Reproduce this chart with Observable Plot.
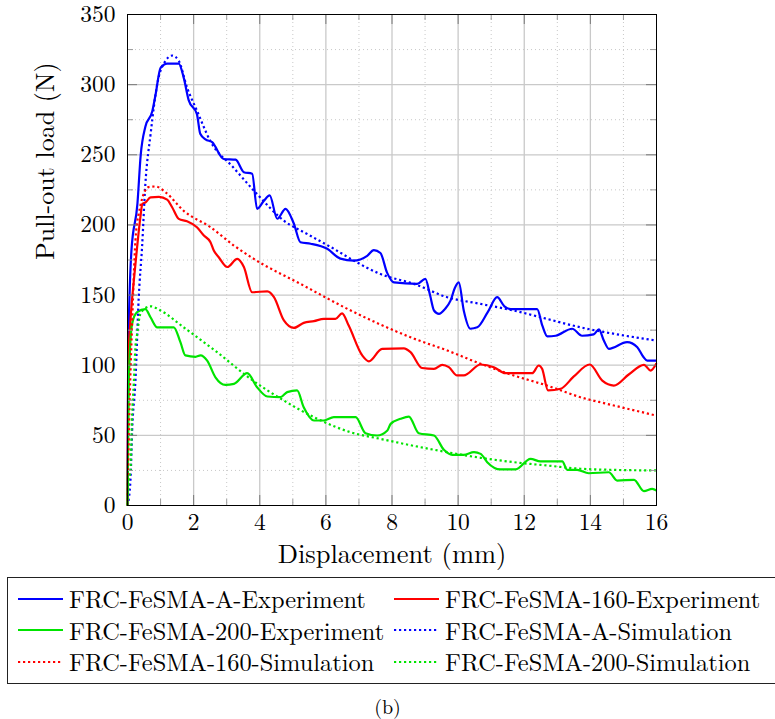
<!DOCTYPE html>
<html>
<head>
<meta charset="utf-8">
<script src="https://cdn.jsdelivr.net/npm/d3@7"></script>
<script src="https://cdn.jsdelivr.net/npm/@observablehq/plot@0.6"></script>
<style>
  html, body { margin: 0; padding: 0; background: #fff; }
  body { width: 775px; height: 719px; position: relative; overflow: hidden; }
  #chart { position: absolute; left: 0; top: 0; }
  #legend { position: absolute; left: 7px; top: 577px; width: 790px; height: 107px; border: 1px solid #222; box-sizing: border-box; }
  .entry { position: absolute; display: flex; align-items: center; line-height: 1; white-space: nowrap; color: #000; }
  .entry svg { margin-right: 6px; }
  #caption { position: absolute; left: 0; width: 775px; top: 696px; height: 20px; text-align: center; line-height: 20px; }
</style>
</head>
<body>
<div id="chart"></div>
<div id="legend"></div>
<div id="caption"></div>
<script>
// ---- data (displacement mm, load N) ----
const expA = [
  [0,0],[0.02,105],[0.12,182],[0.3,215],[0.4,250],[0.54,270],[0.75,281],[0.85,293],[1.0,312],[1.2,315],
  [1.55,315],[1.7,305],[1.85,289],[2.1,279],[2.2,265],[2.36,261],[2.56,259],[2.91,247],[3.27,246.5],[3.52,237.6],
  [3.77,236.5],[3.92,211.5],[4.12,217],[4.3,221],[4.53,204.4],[4.78,211.5],[5.03,201],[5.23,187.7],[5.54,186.6],
  [6.04,183],[6.44,176],[6.84,174.6],[7.25,178],[7.45,182],[7.65,180],[7.85,166],[8.06,159],[8.76,158],[9.01,161.6],
  [9.15,150],[9.27,139],[9.42,136.6],[9.6,140],[9.77,146],[9.9,155],[10.02,159],[10.17,139],[10.37,126],[10.58,127],
  [10.9,138],[11.18,148.5],[11.4,142],[11.59,140],[12.39,140],[12.55,128],[12.7,120.5],[12.95,121],[13.45,126],
  [13.75,121],[14.1,122],[14.26,125.5],[14.4,118],[14.56,111.7],[15.11,116.4],[15.42,112.8],[15.6,106],[15.72,103.3],[16,103.3]
];
const exp160 = [
  [0,0],[0.02,100],[0.09,132],[0.19,160],[0.29,184],[0.39,205.5],[0.45,215],[0.54,216],[0.7,219.7],[0.95,220],
  [1.2,218],[1.35,212.6],[1.55,204.3],[1.8,202.6],[2.1,198.4],[2.31,192.4],[2.51,187.7],[2.61,181.7],[2.76,177],
  [3.02,170],[3.32,175.8],[3.52,170],[3.77,152],[4.23,152.7],[4.43,148.5],[4.73,131.9],[5.03,126.6],[5.33,130.2],
  [5.64,131.4],[5.94,133],[6.29,133],[6.49,137],[6.69,128.3],[7.1,107],[7.3,102.8],[7.7,111.7],[8.36,112],[8.56,109.3],
  [8.91,98],[9.27,97.4],[9.52,100.3],[9.72,98.6],[9.97,92.7],[10.17,92.7],[10.68,100.5],[11.08,98.6],[11.43,94.3],
  [12.24,94.3],[12.44,99.8],[12.54,97.4],[12.72,82],[13.1,83.2],[13.5,92],[13.98,100.5],[14.36,89],[14.71,85.5],
  [15.16,93.4],[15.62,100.3],[15.82,96.2],[16,101.4]
];
const exp200 = [
  [0,0],[0.04,89],[0.14,129.5],[0.29,137.8],[0.54,140],[0.7,134],[0.9,127],[1.4,127],[1.6,116.4],[1.75,107],
  [2.06,106],[2.21,107],[2.41,103.3],[2.66,91.4],[2.96,86],[3.22,86.7],[3.62,94.3],[3.92,84.3],[4.23,77.7],[4.63,77.2],
  [4.83,80.8],[5.13,82],[5.33,70],[5.64,60.6],[5.94,60.6],[6.24,63],[6.9,63],[7.2,51.5],[7.55,49.9],[7.86,53.5],
  [7.96,58.2],[8.26,61.8],[8.51,63.4],[8.81,51.5],[9.27,49.9],[9.57,39.7],[9.82,36.1],[10.17,36.1],[10.48,38],
  [10.68,36.8],[10.88,30.9],[11.28,25.7],[11.74,25.7],[12.19,33.3],[12.49,31.4],[13.15,31.4],[13.3,25.4],[13.6,25.4],
  [13.95,23],[14.56,23.7],[14.81,17.8],[15.32,18.3],[15.62,10.2],[15.87,11.9],[16,10.7]
];
const simA = [
  [0,0],[0.09,18],[0.14,53],[0.24,89],[0.34,148.5],[0.44,184],[0.54,229],[0.7,265],[0.9,300.5],[1.15,317],
  [1.35,320.7],[1.55,317],[1.8,298],[2.1,281.5],[2.5,260],[3.2,241],[3.92,222],[4.73,203],[5.43,193.6],[6.24,183],
  [6.84,174.6],[7.65,165],[8.66,158],[9.67,148.5],[10.68,143.7],[11.68,139],[12.69,133],[13.7,127],[14.71,122.4],[16,117.6]
];
const sim160 = [
  [0,0],[0.05,60],[0.14,130],[0.24,189],[0.34,208],[0.64,227],[0.85,227.4],[1.15,223.3],[1.7,210],[2.51,198.4],
  [3.22,185.3],[3.82,175.8],[5.23,158],[6.75,139],[7.65,129],[8.66,119],[9.67,110.5],[10.68,101],[11.68,92.7],
  [12.69,85.5],[13.7,77.2],[14.71,71.3],[16,64.1]
];
const sim200 = [
  [0,0],[0.04,18],[0.09,25],[0.14,65],[0.19,87],[0.24,113],[0.29,122],[0.39,136.6],[0.64,141.8],[0.7,142],[1.0,139],
  [1.7,127],[2.71,109.3],[3.72,90.3],[4.73,74.8],[5.74,61.8],[6.75,52.2],[7.65,47.5],[8.66,42.5],[9.67,38],[10.68,34],
  [11.68,30.9],[12.69,28.5],[13.7,26.2],[14.71,25.4],[16,25]
];
const seriesNames = [
  "FRC-FeSMA-A-Experiment", "FRC-FeSMA-160-Experiment", "FRC-FeSMA-200-Experiment",
  "FRC-FeSMA-A-Simulation", "FRC-FeSMA-160-Simulation", "FRC-FeSMA-200-Simulation"
];
const seriesData = [expA, exp160, exp200, simA, sim160, sim200];
const xTicks = [0, 2, 4, 6, 8, 10, 12, 14, 16];
const xMinor = [1, 3, 5, 7, 9, 11, 13, 15];
const yTicks = [0, 50, 100, 150, 200, 250, 300, 350];
const yMinor = [25, 75, 125, 175, 225, 275, 325];
const legendOrder = [
  "FRC-FeSMA-A-Experiment", "FRC-FeSMA-160-Experiment",
  "FRC-FeSMA-200-Experiment", "FRC-FeSMA-A-Simulation",
  "FRC-FeSMA-160-Simulation", "FRC-FeSMA-200-Simulation"
];
const xLabel = "Displacement (mm)";
const yLabel = "Pull-out load (N)";
const captionText = "(b)";

// ---- styles ----
const FONT = "'Latin Modern Roman', 'Liberation Serif', serif";
const BLUE = "#0000ff", RED = "#ff0000", GREEN = "#00e400";
const styleOf = {
  "FRC-FeSMA-A-Experiment":  {stroke: BLUE,  dash: null},
  "FRC-FeSMA-160-Experiment":{stroke: RED,   dash: null},
  "FRC-FeSMA-200-Experiment":{stroke: GREEN, dash: null},
  "FRC-FeSMA-A-Simulation":  {stroke: BLUE,  dash: "2.2,2.8"},
  "FRC-FeSMA-160-Simulation":{stroke: RED,   dash: "2.2,2.8"},
  "FRC-FeSMA-200-Simulation":{stroke: GREEN, dash: "2.2,2.8"}
};

const rows = [];
seriesNames.forEach((name, i) => seriesData[i].forEach(([x, y]) => rows.push({name, x, y})));

const W = 775, H = 575, mT = 14, mB = 70, mL = 127, mR = 119;
const innerH = H - mT - mB, innerW = W - mL - mR;
const majLen = 10, minLen = 6;

const lineMarks = seriesNames.map(name => Plot.line(rows.filter(r => r.name === name), {
  x: "x", y: "y", stroke: styleOf[name].stroke, strokeWidth: 2.2,
  strokeDasharray: styleOf[name].dash, strokeLinecap: "butt", curve: "monotone-x"
}));

const plot = Plot.plot({
  width: W, height: H,
  marginTop: mT, marginBottom: mB, marginLeft: mL, marginRight: mR,
  style: {fontFamily: FONT, background: "#fff", color: "#000", overflow: "visible"},
  x: {domain: [0, 16]},
  y: {domain: [0, 350]},
  marks: [
    Plot.ruleX(xMinor, {stroke: "#c8c8c8", strokeWidth: 1, strokeDasharray: "1,3"}),
    Plot.ruleY(yMinor, {stroke: "#c8c8c8", strokeWidth: 1, strokeDasharray: "1,3"}),
    Plot.ruleX(xTicks.slice(1, -1), {stroke: "#c9c9c9", strokeWidth: 1.3}),
    Plot.ruleY(yTicks.slice(1, -1), {stroke: "#c9c9c9", strokeWidth: 1.3}),
    ...lineMarks,
    Plot.tickX(xTicks, {x: d => d, stroke: "#7a7a7a", insetTop: innerH - majLen}),
    Plot.tickX(xTicks, {x: d => d, stroke: "#7a7a7a", insetBottom: innerH - majLen}),
    Plot.tickX(xMinor, {x: d => d, stroke: "#9a9a9a", insetTop: innerH - minLen}),
    Plot.tickX(xMinor, {x: d => d, stroke: "#9a9a9a", insetBottom: innerH - minLen}),
    Plot.tickY(yTicks, {y: d => d, stroke: "#7a7a7a", insetRight: innerW - majLen}),
    Plot.tickY(yTicks, {y: d => d, stroke: "#7a7a7a", insetLeft: innerW - majLen}),
    Plot.tickY(yMinor, {y: d => d, stroke: "#9a9a9a", insetRight: innerW - minLen}),
    Plot.tickY(yMinor, {y: d => d, stroke: "#9a9a9a", insetLeft: innerW - minLen}),
    Plot.frame({stroke: "#000", strokeWidth: 1}),
    Plot.axisX(xTicks, {anchor: "bottom", tickSize: 0, tickPadding: 8, fontSize: 23.5, fontFamily: FONT, label: null}),
    Plot.axisY(yTicks, {anchor: "left", tickSize: 0, tickPadding: 12, fontSize: 23.5, fontFamily: FONT, label: null}),
    Plot.text([xLabel], {frameAnchor: "bottom", dy: 57, fontSize: 26.5, fontFamily: FONT, fill: "#000"}),
    Plot.text([yLabel], {frameAnchor: "left", dx: -82, rotate: -90, fontSize: 26, fontFamily: FONT, fill: "#000"})
  ]
});
document.getElementById("chart").appendChild(plot);

// ---- legend ----
const legend = document.getElementById("legend");
const colX = [10, 386];
const rowY = [20.5, 52, 83.5];
legendOrder.forEach((name, i) => {
  const col = i % 2, row = Math.floor(i / 2);
  const st = styleOf[name];
  const div = document.createElement("div");
  div.className = "entry";
  div.style.fontFamily = FONT;
  div.style.fontSize = "24.4px";
  div.style.left = colX[col] + "px";
  div.style.top = (rowY[row] - 14) + "px";
  div.style.height = "28px";
  const svgNS = "http://www.w3.org/2000/svg";
  const svg = document.createElementNS(svgNS, "svg");
  svg.setAttribute("width", "45"); svg.setAttribute("height", "8");
  const ln = document.createElementNS(svgNS, "line");
  ln.setAttribute("x1", "0"); ln.setAttribute("x2", "45");
  ln.setAttribute("y1", "4"); ln.setAttribute("y2", "4");
  ln.setAttribute("stroke", st.stroke); ln.setAttribute("stroke-width", "2.2");
  if (st.dash) ln.setAttribute("stroke-dasharray", st.dash);
  svg.appendChild(ln);
  const span = document.createElement("span");
  span.textContent = name;
  div.appendChild(svg); div.appendChild(span);
  legend.appendChild(div);
});
const cap = document.getElementById("caption");
cap.textContent = captionText;
cap.style.fontFamily = FONT;
cap.style.fontSize = "20px";
</script>
</body>
</html>
